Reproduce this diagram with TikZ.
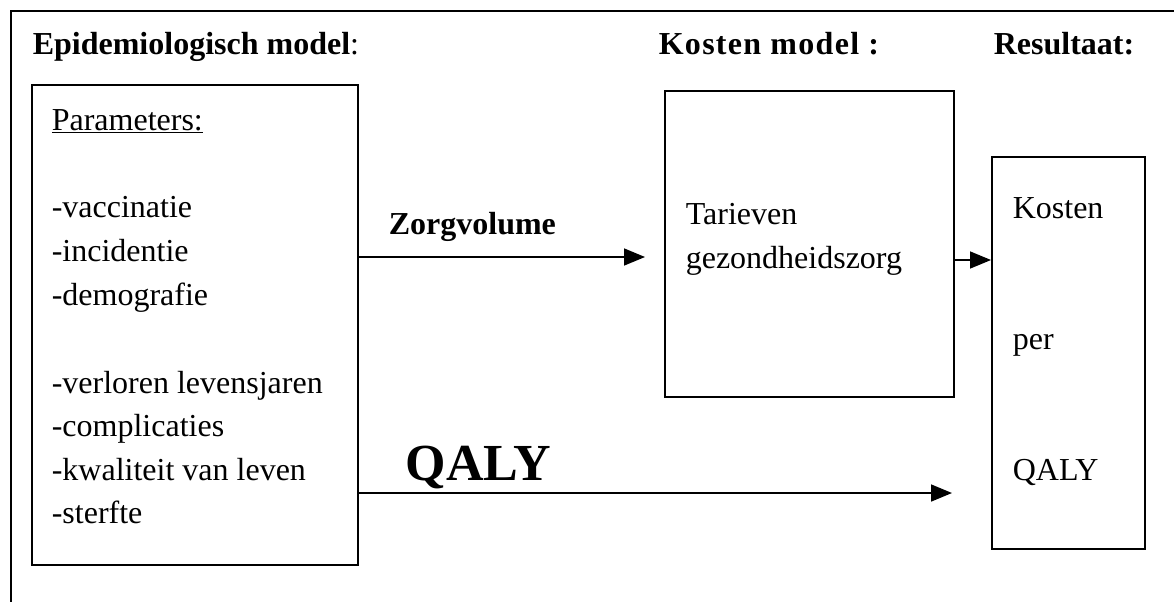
\documentclass[tikz,border=0pt]{standalone}
\usepackage{fontspec}
\setmainfont{Liberation Serif}
\usetikzlibrary{arrows.meta}

\begin{document}
\begin{tikzpicture}
  [x=1pt,y=-1pt,line width=1.6pt,
   every node/.style={inner sep=0pt,anchor=base west,font=\fontsize{32}{40}\selectfont},
   box/.style={draw,rectangle,anchor=north west},
   arr/.style={-{Triangle[length=21pt,width=17pt]}}]
  \useasboundingbox (0,0) rectangle (1174,602);
  \draw (1174,11) -- (11,11) -- (11,602);

  \node (t1) at (32,55) {\bfseries Epidemiologisch model\mdseries:};
  \node (t2) at (658,55) {\bfseries\addfontfeatures{LetterSpace=4} Kosten model :};
  \node (t3) at (993,55) {\bfseries Resultaat:};

  \node[box,minimum width=326pt,minimum height=480pt] (epi) at (31,84) {};
  \node[box,minimum width=289pt,minimum height=306pt] (kosten) at (664,90) {};
  \node[box,minimum width=153pt,minimum height=392pt] (result) at (991,156) {};

  \node (par) at (51,130) {\underline{Parameters:}};
  \foreach \y/\txt [count=\i] in {217/-vaccinatie,261/-incidentie,305/-demografie,
      393/-verloren levensjaren,436/-complicaties,480/-kwaliteit van leven,523/-sterfte}
    \node (p\i) at (51,\y) {\txt};

  \node (k1) at (685,224) {Tarieven};
  \node (k2) at (685,268) {gezondheidszorg};

  \node (r1) at (1012,218) {Kosten};
  \node (r2) at (1012,349) {per};
  \node (r3) at (1012,480) {QALY};

  \node (zorg) at (388,234) {\bfseries Zorgvolume};
  \node[font=\fontsize{52}{60}\selectfont\bfseries] (qaly) at (405,480) {QALY};

  \coordinate (zvtip) at (645,257);
  \coordinate (krtip) at (991,260);
  \coordinate (qtip) at (952,493);

  \draw[arr] (epi.east |- zvtip) -- (zvtip);
  \draw[arr] (kosten.east |- krtip) -- (krtip);
  \draw[arr] (epi.east |- qtip) -- (qtip);

\end{tikzpicture}
\end{document}
